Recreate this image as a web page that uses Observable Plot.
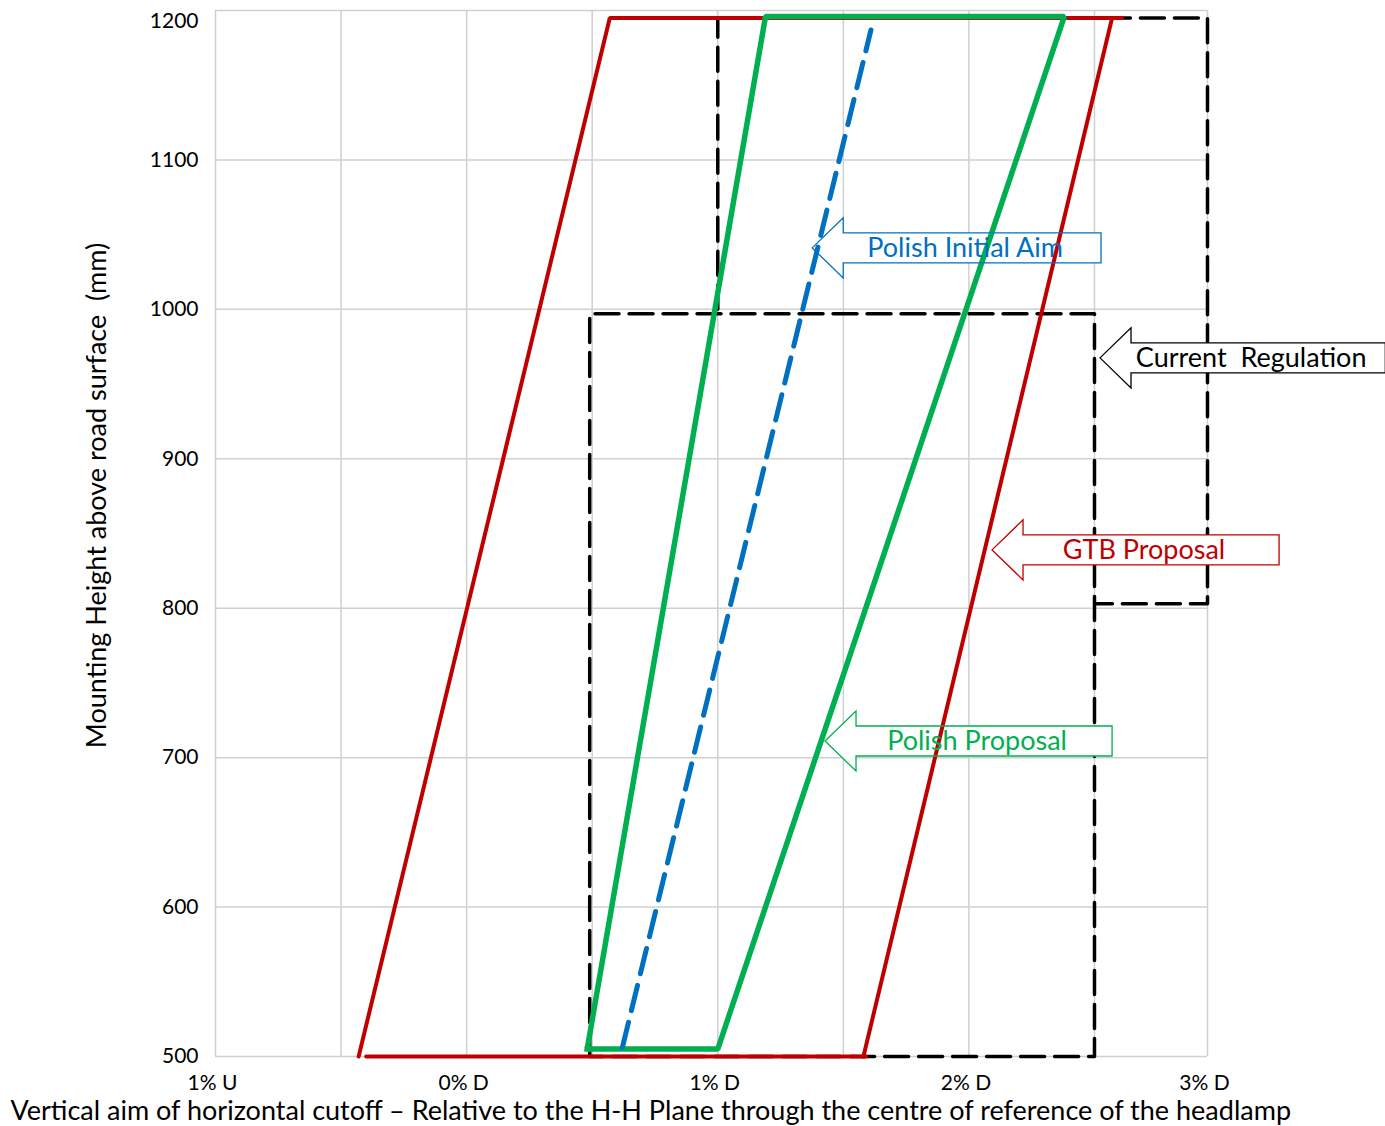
<!DOCTYPE html>
<html>
<head>
<meta charset="utf-8">
<script src="https://cdn.jsdelivr.net/npm/d3@7"></script>
<script src="https://cdn.jsdelivr.net/npm/@observablehq/plot@0.6"></script>
<style>
  body { margin: 0; background: #fff; }
  svg { display: block; }
  text { white-space: pre; }
</style>
</head>
<body>
<div id="chart"></div>
<script>
// ---------- data ----------
const xTickValues = [-1, 0, 1, 2, 2.95];
const xTickLabels = ["1% U", "0% D", "1% D", "2% D", "3% D"];
const xGridValues = [-1, -0.5, 0, 0.5, 1, 1.5, 2, 2.5, 2.95];
const yTickValues = [500, 600, 700, 800, 900, 1000, 1100, 1200];

// GTB Proposal (red) segments: [x (% D), height (mm)]
const gtbLeftEdge = [[-0.43, 500], [0.57, 1195], [2.61, 1195]];
const gtbRightEdge = [[1.58, 500], [2.57, 1195]];
const gtbBase = [[-0.40, 500], [1.59, 500]];
// Polish Proposal (green)
const polishProposal = [[0.48, 505], [1.19, 1196], [2.38, 1196], [1.0, 505], [0.48, 505]];
// Polish Initial Aim (blue dashed)
const polishInitialAim = [[0.62, 506], [1.61, 1187]];
// Current Regulation (black dashed)
const regulationUpper = [[1.0, 1000], [1.0, 1195], [2.95, 1195], [2.95, 803], [2.5, 803]];
const regulationLower = [[0.49, 500], [0.49, 997], [2.5, 997], [2.5, 500], [0.49, 500]];

// Callouts
const calloutLabels = ["Polish Initial Aim", "Current  Regulation", "GTB Proposal", "Polish Proposal"];
const calloutSeries = ["blue", "black", "red", "green"];
const calloutTipX = [1.378, 2.524, 2.094, 1.429];
const calloutY = [1040.8, 967.2, 838.7, 710.8];
const calloutEndX = [2.528, 3.66, 3.237, 2.572];

const xTitle = "Vertical aim of horizontal cutoff \u2013 Relative to the H-H Plane through the centre of reference of the headlamp";
const yTitle = "Mounting Height above road surface  (mm)";

// ---------- styles ----------
const colors = { red: "#c00000", green: "#00b050", blue: "#0070c0", black: "#000000" };
const FONT = "Lato, 'Open Sans', sans-serif";

// ---------- build tables ----------
const toRows = (pts, seg) => pts.map(([x, y]) => ({ x, y, seg }));
const redRows = [...toRows(gtbLeftEdge, "a"), ...toRows(gtbRightEdge, "b"), ...toRows(gtbBase, "c")];
const greenRows = toRows(polishProposal, "a");
const blueRows = toRows(polishInitialAim, "a");
const blackRows = [...toRows(regulationUpper, "u"), ...toRows(regulationLower, "l")];
const callouts = calloutLabels.map((label, i) => ({
  label, color: colors[calloutSeries[i]], tipX: calloutTipX[i], y: calloutY[i], endX: calloutEndX[i]
}));
const xTicks = xTickValues.map((v, i) => ({ x: v, label: xTickLabels[i] }));

const HEAD = 31, HEAD_H = 30, BODY_H = 15;
function arrowPath(scales, d) {
  const tx = scales.x(d.tipX), ty = scales.y(d.y), ex = scales.x(d.endX), hx = tx + HEAD;
  return `M${tx},${ty}L${hx},${ty - HEAD_H}L${hx},${ty - BODY_H}L${ex},${ty - BODY_H}L${ex},${ty + BODY_H}L${hx},${ty + BODY_H}L${hx},${ty + HEAD_H}Z`;
}
function calloutFills(index, scales) {
  const g = d3.create("svg:g");
  for (const d of callouts) g.append("path").attr("d", arrowPath(scales, d)).attr("fill", "#fff");
  return g.node();
}
function calloutOutlines(index, scales) {
  const g = d3.create("svg:g");
  for (const d of callouts) {
    g.append("path").attr("d", arrowPath(scales, d)).attr("fill", "none")
      .attr("stroke", d.color).attr("stroke-width", 1.3).attr("stroke-linejoin", "miter");
    const hx = scales.x(d.tipX) + HEAD, ex = scales.x(d.endX);
    g.append("text").attr("x", (hx + ex) / 2 - 7).attr("y", scales.y(d.y))
      .attr("dy", "0.35em").attr("text-anchor", "middle")
      .attr("fill", d.color).attr("font-size", 27).attr("font-family", FONT)
      .text(d.label);
  }
  return g.node();
}

const chart = Plot.plot({
  width: 1385,
  height: 1126,
  marginLeft: 215,
  marginRight: 178,
  marginTop: 10,
  marginBottom: 70,
  x: { domain: [-1, 2.95], axis: null },
  y: { domain: [500, 1200], axis: null },
  style: { fontFamily: FONT, background: "#fff", overflow: "visible" },
  marks: [
    Plot.ruleX(xGridValues, { stroke: "#d0d0d0", strokeWidth: 1.5 }),
    Plot.ruleY(yTickValues, { stroke: "#d0d0d0", strokeWidth: 1.5 }),
    Plot.line(blackRows, { x: "x", y: "y", z: "seg", stroke: colors.black, strokeWidth: 3.5, strokeDasharray: "24,10" }),
    calloutFills,
    Plot.line(redRows, { x: "x", y: "y", z: "seg", stroke: colors.red, strokeWidth: 4, strokeLinejoin: "miter" }),
    Plot.line(greenRows, { x: "x", y: "y", z: "seg", stroke: colors.green, strokeWidth: 5.5, strokeLinejoin: "miter", strokeLinecap: "square" }),
    Plot.line(blueRows, { x: "x", y: "y", z: "seg", stroke: colors.blue, strokeWidth: 5, strokeDasharray: "26,12" }),
    calloutOutlines,
    Plot.text(yTickValues.filter(v => v < 1200), { x: () => -1, y: d => d, text: d => String(d), textAnchor: "end", dx: -17, fontSize: 21, fill: "#000" }),
    Plot.text(yTickValues.filter(v => v === 1200), { x: () => -1, y: d => d, text: d => String(d), textAnchor: "end", dx: -17, dy: 11, fontSize: 21, fill: "#000" }),
    Plot.text(xTicks, { x: "x", y: () => 500, text: "label", dy: 27, dx: -3, fontSize: 21, fill: "#000" }),
    Plot.text([yTitle], { frameAnchor: "left", text: d => d, textAnchor: "middle", rotate: -90, dx: -118, dy: -38, fontSize: 27, fill: "#000" }),
    Plot.text([xTitle], { frameAnchor: "bottom-left", text: d => d, textAnchor: "start", lineAnchor: "middle", dx: -205, dy: 55, fontSize: 27, fill: "#000" })
  ]
});
document.getElementById("chart").appendChild(chart);
</script>
</body>
</html>
